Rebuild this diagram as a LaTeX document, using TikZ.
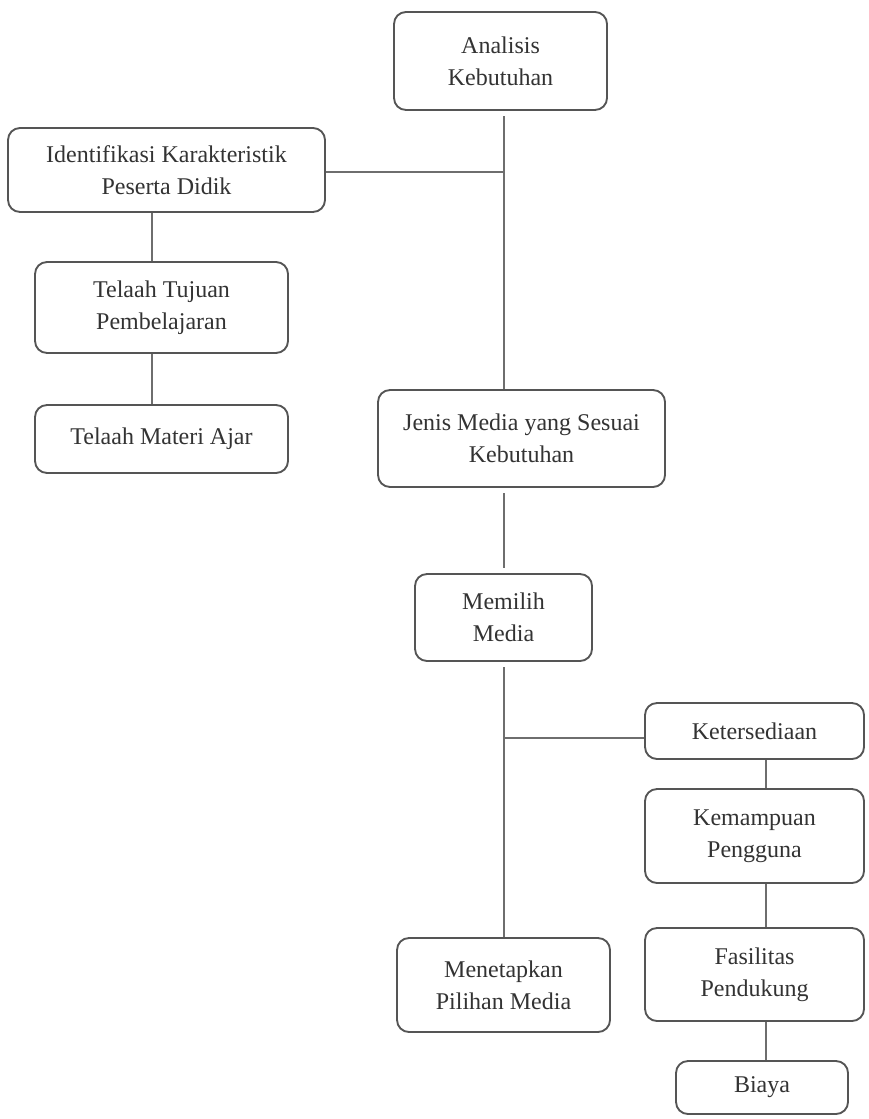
\documentclass[tikz,border=0pt]{standalone}
\usepackage{fontspec}
\setmainfont{Liberation Serif}
\definecolor{boxc}{HTML}{555555}
\definecolor{linec}{HTML}{6E6E6E}
\definecolor{txtc}{HTML}{333333}
\begin{document}
\begin{tikzpicture}[x=0.75pt,y=-0.75pt,
  box/.style={draw=boxc, line width=1.4pt, rounded corners=9pt, align=center,
    text=txtc, font=\fontsize{18}{24}\selectfont, inner sep=0pt},
  conn/.style={draw=linec, line width=1.5pt}]
\useasboundingbox[fill=white] (0,0) rectangle (868,1119);

\node[box, minimum width=159.75pt, minimum height=73.5pt] (an) at (500.5,61) {Analisis\\Kebutuhan};
\node[box, minimum width=237.75pt, minimum height=63pt] (id) at (166.5,170) {Identifikasi Karakteristik\\Peserta Didik};
\node[box, minimum width=189.75pt, minimum height=68.25pt] (tt) at (161.5,307.5) {Telaah Tujuan\\Pembelajaran};
\node[box, minimum width=189.75pt, minimum height=51pt] (tm) at (161.5,439) {Telaah Materi Ajar};
\node[box, minimum width=215.25pt, minimum height=72.75pt] (jm) at (521.5,438.5) {Jenis Media yang Sesuai\\Kebutuhan};
\node[box, minimum width=132.75pt, minimum height=65.25pt] (mm) at (503.5,617.5) {Memilih\\Media};
\node[box, minimum width=164.25pt, minimum height=42pt] (ke) at (754.5,731) {Ketersediaan};
\node[box, minimum width=164.25pt, minimum height=70.5pt] (kp) at (754.5,836) {Kemampuan\\Pengguna};
\node[box, minimum width=164.25pt, minimum height=69.75pt] (fs) at (754.5,974.5) {Fasilitas\\Pendukung};
\node[box, minimum width=129pt, minimum height=39.75pt] (bi) at (762,1087.5) {Biaya};
\node[box, minimum width=159.75pt, minimum height=70.5pt] (mp) at (503.5,985) {Menetapkan\\Pilihan Media};

\coordinate (sp) at (504,0);
\coordinate (lx) at (152,0);
\coordinate (rx) at (766,0);
\coordinate (j1) at (504,172);
\coordinate (j2) at (504,738);

\draw[conn, shorten <=4pt] (an.south -| sp) -- (jm.north -| sp);
\draw[conn] (id.east |- j1) -- (j1);
\draw[conn] (id.south -| lx) -- (tt.north -| lx);
\draw[conn] (tt.south -| lx) -- (tm.north -| lx);
\draw[conn, shorten <=4pt, shorten >=4pt] (jm.south -| sp) -- (mm.north -| sp);
\draw[conn, shorten <=4pt] (mm.south -| sp) -- (mp.north -| sp);
\draw[conn] (j2) -- (j2 -| ke.west);
\draw[conn] (ke.south -| rx) -- (kp.north -| rx);
\draw[conn] (kp.south -| rx) -- (fs.north -| rx);
\draw[conn] (fs.south -| rx) -- (bi.north -| rx);
\end{tikzpicture}
\end{document}
